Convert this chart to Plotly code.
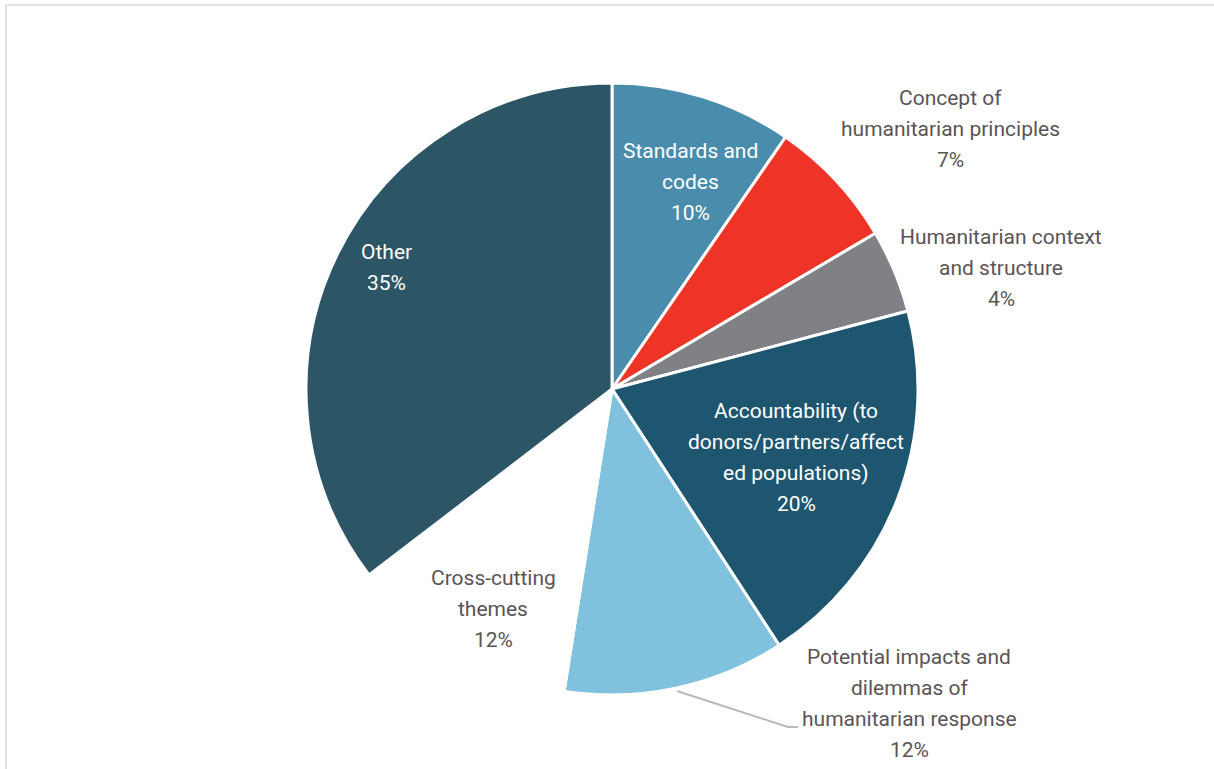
import plotly.graph_objects as go

# ---- data ----
labels = [
    "Standards and<br>codes",
    "Concept of<br>humanitarian principles",
    "Humanitarian context<br>and structure",
    "Accountability (to<br>donors/partners/affect<br>ed populations)",
    "Potential impacts and<br>dilemmas of<br>humanitarian response",
    "Cross-cutting<br>themes",
    "Other",
]
values = [9.6, 6.9, 4.4, 19.9, 11.7, 12.1, 35.4]
colors = ["#4A8CAB", "#EE3426", "#808184", "#1E5670", "#80C1DD", "#FFFFFF", "#2C5565"]
text_colors = ["#FFFFFF", "#5B5456", "#5B5456", "#FFFFFF", "#5B5456", "#5B5456", "#FFFFFF"]

W, H = 1214, 769
cx, cy, r = 612, 389, 306

fig = go.Figure()
fig.add_trace(go.Pie(
    labels=[l.replace("<br>", " ") for l in labels],
    values=values,
    sort=False,
    direction="clockwise",
    rotation=0,
    marker=dict(colors=colors, line=dict(color="#FFFFFF", width=3)),
    textinfo="none",
    hoverinfo="label+percent",
    showlegend=False,
    domain=dict(x=[(cx - r) / W, (cx + r) / W], y=[1 - (cy + r) / H, 1 - (cy - r) / H]),
))

# label placement (pixel centre x, first-line centre y)
label_pos = [(690, 151), (950, 98), (1001, 237), (796, 411), (909, 657), (493, 578), (386, 252)]
line_h = 31
total = sum(values)
for lab, v, tc, (x, y) in zip(labels, values, text_colors, label_pos):
    lines = lab.split("<br>") + [f"{round(v / total * 100)}%"]
    for i, ln in enumerate(lines):
        fig.add_annotation(
            x=x / W, y=1 - (y + i * line_h) / H, xref="paper", yref="paper",
            text=ln, showarrow=False, xanchor="center", yanchor="middle",
            font=dict(family="Roboto", size=21, color=tc),
        )

shapes = [
    # leader line for "Potential impacts"
    dict(type="path", xref="paper", yref="paper",
         path=f"M {677/W} {1-691/H} L {788/W} {1-727/H} L {798/W} {1-727/H}",
         line=dict(color="#BDB6B8", width=2)),
    # frame
    dict(type="line", xref="paper", yref="paper", x0=6/W, x1=1, y0=1-5/H, y1=1-5/H,
         line=dict(color="#D9D9D9", width=1.5)),
    dict(type="line", xref="paper", yref="paper", x0=6/W, x1=6/W, y0=0, y1=1-5/H,
         line=dict(color="#D9D9D9", width=1.5)),
]

fig.update_layout(
    width=W, height=H,
    margin=dict(l=0, r=0, t=0, b=0),
    paper_bgcolor="#FFFFFF", plot_bgcolor="#FFFFFF",
    shapes=shapes,
)

fig.write_html(
    "out.html",
    config={"displayModeBar": False},
    post_script="document.body.style.margin='0px';document.body.style.overflow='hidden';",
)
